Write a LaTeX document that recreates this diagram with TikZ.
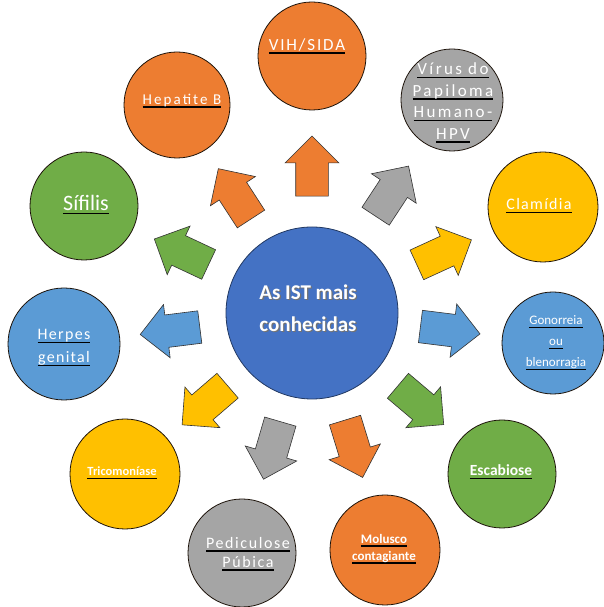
\documentclass[tikz,border=0pt]{standalone}
\usepackage{fontspec}
\setmainfont{Carlito}
\usetikzlibrary{shapes.arrows}
\definecolor{istorange}{HTML}{ED7D31}
\definecolor{istgray}{HTML}{A5A5A5}
\definecolor{istyellow}{HTML}{FFC000}
\definecolor{istgreen}{HTML}{70AD47}
\definecolor{istblue}{HTML}{5B9BD5}
\definecolor{hubblue}{HTML}{4472C4}
% white word with a black bar under it
\newcommand\ulbar[1]{\setbox0=\hbox{#1}\rlap{\color{black}\rule[-3.5pt]{\wd0}{1.6pt}}\box0}
\newcommand\shd[1]{\rlap{\hspace{1.2pt}\raisebox{-1.2pt}{\color{black!55}#1}}#1}
\tikzset{
  ist/.style   ={circle, draw=black!85!brown, line width=0.8pt, inner sep=0pt, minimum size=#1},
  lbl/.style   ={text=white, align=center, inner sep=0pt},
  wide/.style n args={3}{font=\fontsize{#1}{#2}\selectfont\addfontfeature{LetterSpace=#3}},
  istarrow/.style={single arrow, draw=black!80, line width=0.6pt, inner xsep=0pt, inner ysep=16pt,
                   minimum height=60pt, single arrow head extend=10.5pt,
                   single arrow tip angle=90, sloped, allow upside down},
}
\begin{document}
\begin{tikzpicture}[x=1pt,y=1pt]
  \useasboundingbox (0,0) rectangle (603,607);
  % circles
  \node[ist=172, fill=hubblue, draw=hubblue!50!black] (hub) at (312,294) {};
  \node[ist=108, fill=istorange] (vih)  at (312,551) {};
  \node[ist=102, fill=istgray]   (hpv)  at (452,507) {};
  \node[ist=106, fill=istorange] (hepb) at (177,502) {};
  \node[ist=108, fill=istgreen]  (sif)  at (84,401) {};
  \node[ist=110, fill=istyellow] (clam) at (543,400) {};
  \node[ist=112, fill=istblue]   (herp) at (64,263) {};
  \node[ist=102, fill=istblue]   (gono) at (553,264) {};
  \node[ist=110, fill=istyellow] (tric) at (125,133) {};
  \node[ist=108, fill=istgreen]  (esca) at (502,133) {};
  \node[ist=108, fill=istgray]   (pedi) at (242,54) {};
  \node[ist=110, fill=istorange] (molu) at (385,57) {};
  % arrows
  \foreach \n/\c in {vih/istorange, hpv/istgray, hepb/istorange, sif/istgreen,
                     clam/istyellow, herp/istblue, gono/istblue, tric/istyellow,
                     esca/istgreen, pedi/istgray, molu/istorange}
    \path (hub.center) -- (\n.center) node[pos=0.54, istarrow, fill=\c] (arr-\n) {};
  % labels
  \node[lbl, font=\fontsize{21}{32}\selectfont\bfseries] (hub-t) at (308,298)
    {\shd{As IST mais}\\\shd{conhecidas}};
  \node[lbl, wide={17}{21}{11}] (vih-t)  at (307,561) {\ulbar{VIH/SIDA}};
  \node[lbl, wide={17}{21.5}{14}] (hpv-t)  at (453,504)
    {\ulbar{Vírus do}\\\ulbar{Papiloma}\\\ulbar{Humano-}\\\ulbar{HPV}};
  \node[lbl, wide={15}{18}{14}] (hepb-t) at (182,506) {\ulbar{Hepatite B}};
  \node[lbl, font=\fontsize{22}{26}\selectfont] (sif-t) at (86,402) {\ulbar{Sífilis}};
  \node[lbl, wide={16}{19}{8}] (clam-t) at (539,401) {\ulbar{Clamídia}};
  \node[lbl, wide={16}{23}{8}] (herp-t) at (64,259) {\ulbar{Herpes}\\\ulbar{genital}};
  \node[lbl, font=\fontsize{13}{21}\selectfont] (gono-t) at (556,264)
    {\ulbar{Gonorreia}\\\ulbar{ou}\\\ulbar{blenorragia}};
  \node[lbl, font=\fontsize{12.5}{15}\selectfont\bfseries] (tric-t) at (122,134) {\ulbar{Tricomoníase}};
  \node[lbl, font=\fontsize{15.5}{18}\selectfont\bfseries] (esca-t) at (501,135) {\ulbar{Escabiose}};
  \node[lbl, wide={16}{18.5}{10}] (pedi-t) at (248,53) {\ulbar{Pediculose}\\\ulbar{Púbica}};
  \node[lbl, font=\fontsize{13}{17}\selectfont\bfseries] (molu-t) at (384,58)
    {\ulbar{Molusco}\\\ulbar{contagiante}};
\end{tikzpicture}
\end{document}
